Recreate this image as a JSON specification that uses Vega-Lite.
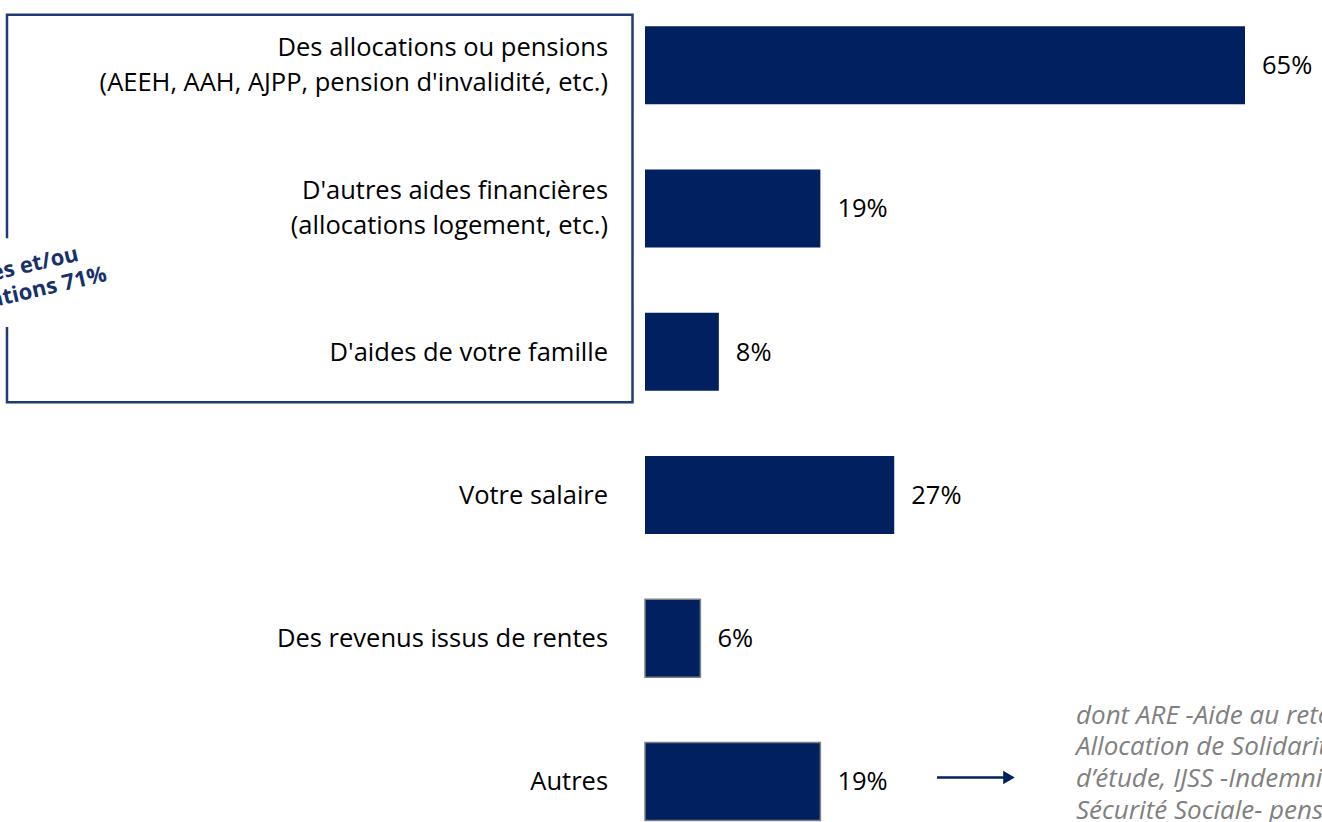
{
  "$schema": "https://vega.github.io/schema/vega-lite/v6.json",
  "width": 1322,
  "height": 822,
  "autosize": "none",
  "padding": 0,
  "background": "white",
  "config": {"view": {"stroke": null}, "font": "Open Sans"},
  "data": {
    "values": [
      {"rank": 0, "cat": "Des allocations ou pensions\n(AEEH, AAH, AJPP, pension d'invalidité, etc.)", "pct": 65, "lab": "65%"},
      {"rank": 1, "cat": "D'autres aides financières\n(allocations logement, etc.)", "pct": 19, "lab": "19%"},
      {"rank": 2, "cat": "D'aides de votre famille", "pct": 8, "lab": "8%"},
      {"rank": 3, "cat": "Votre salaire", "pct": 27, "lab": "27%"},
      {"rank": 4, "cat": "Des revenus issus de rentes", "pct": 6, "lab": "6%"},
      {"rank": 5, "cat": "Autres", "pct": 19, "lab": "19%"}
    ]
  },
  "layer": [
    {
      "mark": {"type": "bar", "orient": "horizontal", "size": 78, "color": "#002060", "strokeWidth": 1.5},
      "encoding": {
        "x": {"field": "pct", "type": "quantitative", "scale": {"domain": [-69.875, 73.342], "nice": false, "zero": false}, "axis": null},
        "y": {"field": "rank", "type": "quantitative", "scale": {"domain": [-0.4207, 5.2483], "reverse": true, "nice": false, "zero": false}, "axis": null},
        "stroke": {"condition": {"test": "datum.rank >= 4", "value": "#7f7f7f"}, "value": null}
      }
    },
    {
      "mark": {"type": "text", "align": "left", "baseline": "middle", "dx": 17, "dy": 1, "fontSize": 25.5, "color": "#000000"},
      "encoding": {
        "x": {"field": "pct", "type": "quantitative"},
        "y": {"field": "rank", "type": "quantitative"},
        "text": {"field": "lab"}
      }
    },
    {
      "transform": [{"filter": "indexof(datum.cat, '\\n') >= 0"}],
      "mark": {"type": "text", "align": "right", "baseline": "middle", "dy": -17, "fontSize": 25.5, "lineBreak": "\n", "lineHeight": 35, "color": "#000000"},
      "encoding": {
        "x": {"datum": -4.0, "type": "quantitative"},
        "y": {"field": "rank", "type": "quantitative"},
        "text": {"field": "cat"}
      }
    },
    {
      "transform": [{"filter": "indexof(datum.cat, '\\n') < 0"}],
      "mark": {"type": "text", "align": "right", "baseline": "middle", "dy": 1, "fontSize": 25.5, "color": "#000000"},
      "encoding": {
        "x": {"datum": -4.0, "type": "quantitative"},
        "y": {"field": "rank", "type": "quantitative"},
        "text": {"field": "cat"}
      }
    },
    {
      "data": {"values": [{}]},
      "mark": {"type": "rect", "fill": null, "fillOpacity": 0, "stroke": "#1f3a75", "strokeWidth": 2.5},
      "encoding": {
        "x": {"datum": -69.117, "type": "quantitative"},
        "x2": {"datum": -1.354},
        "y": {"datum": -0.352, "type": "quantitative"},
        "y2": {"datum": 2.352}
      }
    },
    {
      "data": {"values": [{}]},
      "mark": {"type": "rect", "fill": "white", "stroke": null},
      "encoding": {
        "x": {"datum": -69.55, "type": "quantitative"},
        "x2": {"datum": -68.575},
        "y": {"datum": 1.2069, "type": "quantitative"},
        "y2": {"datum": 1.8276}
      }
    },
    {
      "data": {"values": [{}]},
      "mark": {"type": "text", "align": "center", "baseline": "middle", "angle": -13, "fontSize": 22, "fontWeight": "bold", "lineBreak": "\n", "lineHeight": 26, "color": "#17316b"},
      "encoding": {
        "x": {"datum": -68.03, "type": "quantitative"},
        "y": {"datum": 1.414, "type": "quantitative"},
        "text": {"value": "Aides et/ou\nallocations 71%"}
      }
    },
    {
      "data": {"values": [{}]},
      "mark": {"type": "rule", "color": "#002060", "strokeWidth": 2.5},
      "encoding": {
        "x": {"datum": 31.63, "type": "quantitative"},
        "x2": {"datum": 39.11},
        "y": {"datum": 4.972, "type": "quantitative"}
      }
    },
    {
      "data": {"values": [{}]},
      "mark": {"type": "point", "shape": "triangle-right", "filled": true, "size": 180, "color": "#002060", "opacity": 1},
      "encoding": {
        "x": {"datum": 39.43, "type": "quantitative"},
        "y": {"datum": 4.972, "type": "quantitative"}
      }
    },
    {
      "data": {"values": [{}]},
      "mark": {"type": "text", "align": "left", "baseline": "middle", "fontSize": 26, "fontStyle": "italic", "lineBreak": "\n", "lineHeight": 31.7, "color": "#808080"},
      "encoding": {
        "x": {"datum": 46.69, "type": "quantitative"},
        "y": {"datum": 4.54, "type": "quantitative"},
        "text": {"value": "dont ARE -Aide au retour à l'emploi-, ASS -\nAllocation de Solidarité Spécifique-, bourses\nd’étude, IJSS -Indemnités Journalières de la\nSécurité Sociale- pension de retraite"}
      }
    }
  ]
}
